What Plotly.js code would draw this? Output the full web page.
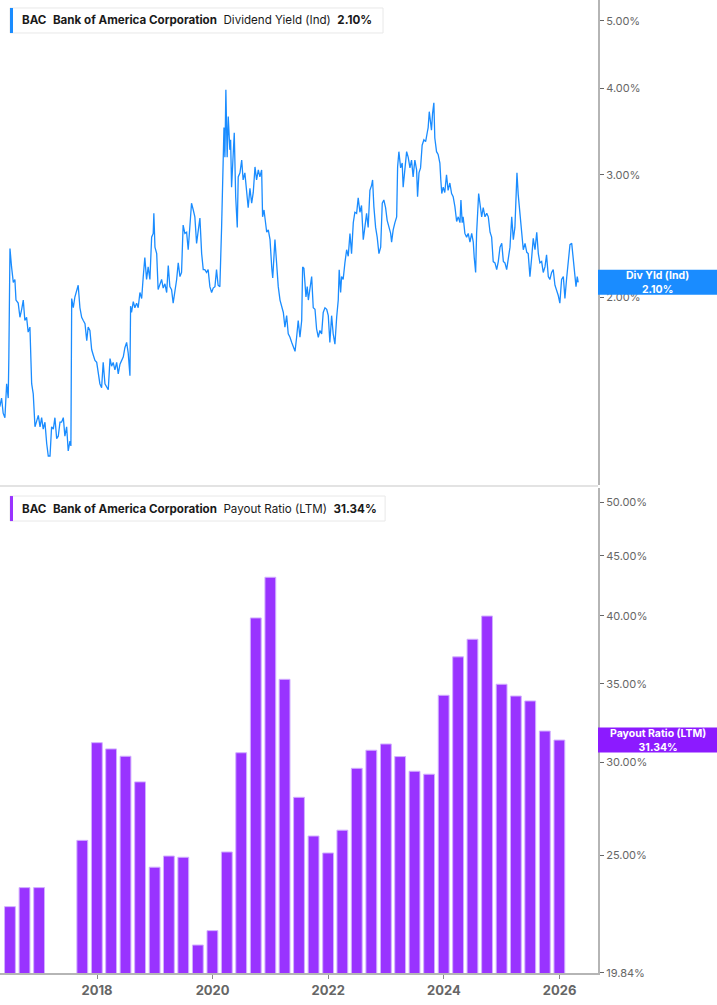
<!DOCTYPE html>
<html>
<head>
<meta charset="utf-8">
<script src="https://cdn.plot.ly/plotly-3.0.1.min.js"></script>
<style>
  html, body { margin: 0; padding: 0; background: #fff; }
  #chart { width: 717px; height: 1005px; }
</style>
</head>
<body>
<div id="chart"></div>
<script>
//dividend yield (ind), % - sample dates as decimal years
var yieldYears = [
  2016.322,2016.351,2016.379,2016.408,2016.438,2016.466,2016.478,2016.495,2016.524,2016.552,
  2016.581,2016.599,2016.639,2016.668,2016.697,2016.725,2016.754,2016.784,2016.811,2016.841,
  2016.870,2016.898,2016.927,2016.957,2016.984,2017.014,2017.043,2017.071,2017.100,2017.130,
  2017.157,2017.187,2017.216,2017.244,2017.273,2017.303,2017.330,2017.360,2017.389,2017.417,
  2017.446,2017.476,2017.503,2017.533,2017.550,2017.562,2017.590,2017.619,2017.649,2017.676,
  2017.706,2017.735,2017.763,2017.792,2017.822,2017.849,2017.879,2017.908,2017.936,2017.965,
  2017.995,2018.022,2018.052,2018.081,2018.109,2018.138,2018.168,2018.195,2018.225,2018.254,
  2018.282,2018.311,2018.341,2018.368,2018.398,2018.427,2018.455,2018.484,2018.514,2018.541,
  2018.571,2018.583,2018.600,2018.628,2018.657,2018.687,2018.714,2018.744,2018.773,2018.801,
  2018.830,2018.860,2018.887,2018.917,2018.946,2018.974,2018.986,2019.003,2019.033,2019.060,
  2019.090,2019.119,2019.147,2019.176,2019.206,2019.233,2019.263,2019.292,2019.320,2019.349,
  2019.379,2019.406,2019.436,2019.465,2019.493,2019.522,2019.552,2019.579,2019.609,2019.638,
  2019.666,2019.695,2019.725,2019.752,2019.781,2019.811,2019.839,2019.868,2019.897,2019.925,
  2019.954,2019.984,2020.011,2020.041,2020.070,2020.098,2020.127,2020.157,2020.174,2020.197,
  2020.214,2020.231,2020.254,2020.271,2020.300,2020.312,2020.330,2020.357,2020.375,2020.399,
  2020.427,2020.444,2020.473,2020.503,2020.530,2020.560,2020.589,2020.617,2020.646,2020.676,
  2020.703,2020.733,2020.762,2020.790,2020.819,2020.849,2020.866,2020.889,2020.906,2020.935,
  2020.963,2020.992,2021.022,2021.039,2021.079,2021.108,2021.136,2021.165,2021.195,2021.222,
  2021.252,2021.281,2021.309,2021.338,2021.368,2021.425,2021.454,2021.482,2021.511,2021.541,
  2021.558,2021.580,2021.615,2021.637,2021.655,2021.684,2021.714,2021.741,2021.771,2021.800,
  2021.828,2021.857,2021.886,2021.914,2021.944,2021.973,2022.001,2022.030,2022.059,2022.087,
  2022.116,2022.146,2022.174,2022.191,2022.215,2022.232,2022.260,2022.290,2022.319,2022.346,
  2022.376,2022.405,2022.433,2022.462,2022.492,2022.519,2022.549,2022.578,2022.606,2022.635,
  2022.665,2022.692,2022.722,2022.751,2022.768,2022.791,2022.821,2022.848,2022.878,2022.907,
  2022.935,2022.964,2022.994,2023.021,2023.051,2023.080,2023.097,2023.125,2023.154,2023.184,
  2023.201,2023.224,2023.253,2023.281,2023.298,2023.327,2023.357,2023.384,2023.414,2023.443,
  2023.471,2023.500,2023.530,2023.547,2023.570,2023.599,2023.627,2023.656,2023.685,2023.713,
  2023.730,2023.748,2023.772,2023.789,2023.806,2023.829,2023.846,2023.876,2023.903,2023.933,
  2023.950,2023.967,2023.990,2024.019,2024.049,2024.076,2024.106,2024.135,2024.163,2024.192,
  2024.222,2024.249,2024.279,2024.296,2024.318,2024.336,2024.365,2024.395,2024.422,2024.452,
  2024.481,2024.509,2024.526,2024.550,2024.567,2024.585,2024.602,2024.624,2024.654,2024.682,
  2024.711,2024.741,2024.768,2024.798,2024.827,2024.855,2024.884,2024.914,2024.941,2024.971,
  2025.000,2025.028,2025.057,2025.086,2025.114,2025.143,2025.173,2025.201,2025.230,2025.247,
  2025.265,2025.287,2025.316,2025.346,2025.374,2025.403,2025.433,2025.460,2025.490,2025.519,
  2025.547,2025.576,2025.606,2025.633,2025.662,2025.692,2025.720,2025.749,2025.778,2025.806,
  2025.835,2025.865,2025.893,2025.922,2025.951,2025.979,2026.008,2026.038,2026.066,2026.095,
  2026.124,2026.152,2026.181,2026.211,2026.238,2026.268,2026.285,2026.307,2026.325
];
var yieldValues = [
  1.39,1.43,1.36,1.34,1.50,1.43,1.64,2.35,2.21,2.10,
  2.12,1.98,1.96,1.87,1.92,1.98,1.85,1.87,1.78,1.81,
  1.50,1.45,1.30,1.33,1.35,1.30,1.34,1.29,1.32,1.23,
  1.18,1.18,1.30,1.29,1.34,1.25,1.26,1.32,1.32,1.34,
  1.26,1.30,1.20,1.24,1.22,1.99,1.93,2.00,2.05,2.08,
  1.93,1.87,1.85,1.83,1.73,1.81,1.79,1.68,1.65,1.62,
  1.61,1.55,1.50,1.48,1.61,1.50,1.48,1.47,1.63,1.59,
  1.61,1.57,1.61,1.55,1.60,1.62,1.64,1.69,1.72,1.66,
  1.54,1.94,1.90,1.97,1.93,1.96,1.93,2.03,1.99,2.14,
  2.28,2.12,2.21,2.12,2.44,2.47,2.64,2.36,2.31,2.05,
  2.08,2.12,2.06,2.09,2.03,2.22,2.07,2.05,1.96,2.03,
  2.12,2.24,2.14,2.17,2.54,2.47,2.48,2.34,2.57,2.73,
  2.67,2.61,2.39,2.47,2.60,2.31,2.19,2.19,2.17,2.19,
  2.07,2.03,2.06,2.07,2.19,2.08,2.07,2.52,3.02,3.51,
  3.18,3.98,3.18,3.64,3.26,3.37,2.88,3.26,3.45,2.79,
  2.52,2.98,3.02,3.15,2.95,3.02,2.85,2.69,2.87,2.73,
  2.83,3.08,2.95,3.05,2.98,3.05,2.61,2.67,2.60,2.48,
  2.50,2.42,2.20,2.13,2.42,2.19,2.07,1.98,1.93,1.90,
  1.81,1.88,1.77,1.75,1.72,1.67,1.75,1.85,1.75,1.85,
  2.21,2.20,2.00,2.07,1.98,2.07,2.14,1.93,1.92,1.80,
  1.75,1.79,1.77,1.90,1.93,1.92,1.88,1.72,1.88,1.77,
  1.71,1.87,1.98,2.19,2.03,2.14,2.12,2.24,2.34,2.29,
  2.47,2.31,2.56,2.65,2.64,2.78,2.65,2.71,2.42,2.52,
  2.64,2.52,2.85,2.90,2.95,2.70,2.52,2.44,2.31,2.36,
  2.73,2.76,2.69,2.58,2.52,2.47,2.40,2.50,2.56,2.61,
  3.08,3.24,3.07,3.12,2.88,3.08,3.24,3.18,3.07,3.15,
  2.98,3.15,3.05,2.79,3.02,3.07,3.31,3.37,3.35,3.45,
  3.51,3.70,3.56,3.48,3.68,3.81,3.39,3.24,3.21,3.12,
  2.95,2.82,2.88,2.83,3.00,2.85,2.92,2.82,2.79,2.70,
  2.57,2.61,2.56,2.76,2.56,2.61,2.47,2.44,2.47,2.40,
  2.47,2.40,2.28,2.17,2.47,2.67,2.82,2.73,2.61,2.69,
  2.61,2.64,2.61,2.48,2.44,2.25,2.24,2.19,2.25,2.36,
  2.39,2.25,2.24,2.19,2.26,2.36,2.61,2.42,2.52,2.79,
  3.02,2.81,2.64,2.52,2.34,2.39,2.32,2.31,2.14,2.28,
  2.43,2.34,2.48,2.31,2.24,2.25,2.17,2.21,2.30,2.14,
  2.12,2.17,2.19,2.08,2.05,2.01,1.96,2.12,2.14,1.99,
  2.13,2.24,2.38,2.39,2.28,2.12,2.07,2.14,2.10
];

//payout ratio (LTM), %, quarterly
var payoutDates = [
  "2016-06-30","2016-09-30","2016-12-31","2017-09-30","2017-12-31",
  "2018-03-31","2018-06-30","2018-09-30","2018-12-31",
  "2019-03-31","2019-06-30","2019-09-30","2019-12-31",
  "2020-03-31","2020-06-30","2020-09-30","2020-12-31",
  "2021-03-31","2021-06-30","2021-09-30","2021-12-31",
  "2022-03-31","2022-06-30","2022-09-30","2022-12-31",
  "2023-03-31","2023-06-30","2023-09-30","2023-12-31",
  "2024-03-31","2024-06-30","2024-09-30","2024-12-31",
  "2025-03-31","2025-06-30","2025-09-30","2025-12-31"
];
var payoutValues = [
  22.60,23.46,23.46,25.74,31.18,
  30.80,30.36,28.87,24.42,
  24.96,24.90,20.96,21.56,
  25.16,30.57,39.83,43.14,
  35.31,28.01,25.96,25.11,
  26.26,29.65,30.72,31.10,
  30.34,29.48,29.31,34.22,
  36.90,38.20,39.98,34.97,
  34.17,33.84,31.90,31.34
];

var yearTicks = ["2018", "2020", "2022", "2024", "2026"];
var yieldTicks = [2, 3, 4, 5];
var payoutTicks = [19.84, 25, 30, 35, 40, 45, 50];

var lastYield = 2.10;
var lastPayout = 31.34;

var blue = "#1a8cff";
var purple = "#9933ff";
var fontFamily = "Inter, Roboto, 'Noto Sans', sans-serif";

//decimal year -> yyyy-mm-dd
function yearToDate(y) {
  var yr = Math.floor(y);
  var start = Date.UTC(yr, 0, 1);
  var end = Date.UTC(yr + 1, 0, 1);
  return new Date(start + (y - yr) * (end - start)).toISOString().slice(0, 10);
}

var topDomain = [0.5015, 1];
var bottomDomain = [0, 0.4985];
var topRange = [0.030, 0.7292];
var bottomRange = [Math.log10(19.84), 1.711];

//value on a log axis -> paper y
function paperY(v, domain, range) {
  return domain[0] + (Math.log10(v) - range[0]) / (range[1] - range[0]) * (domain[1] - domain[0]);
}

var data = [
  {
    x: yieldYears.map(yearToDate),
    y: yieldValues,
    type: "scatter",
    mode: "lines",
    line: { color: blue, width: 1.3 },
    xaxis: "x",
    yaxis: "y",
  },
  {
    x: payoutDates,
    y: payoutValues,
    type: "bar",
    marker: { color: purple, line: { color: "#d2b0ff", width: 1 } },
    xaxis: "x",
    yaxis: "y2",
  },
];

var yAxisStyle = {
  type: "log",
  side: "right",
  showgrid: false,
  zeroline: false,
  showline: true,
  linecolor: "#b5b5b5",
  linewidth: 2,
  ticks: "outside",
  ticklen: 4,
  tickwidth: 1,
  tickcolor: "#666",
  tickfont: { family: fontFamily, size: 11, color: "#666" },
  fixedrange: true,
};

var layout = {
  width: 717,
  height: 1005,
  margin: { l: 0, r: 119, t: 0, b: 32 },
  paper_bgcolor: "#fff",
  plot_bgcolor: "#fff",
  showlegend: false,
  bargap: 0.24,
  xaxis: {
    type: "date",
    anchor: "y2",
    range: ["2016-04-28", "2026-09-01"],
    showgrid: false,
    zeroline: false,
    showline: true,
    linecolor: "#b5b5b5",
    linewidth: 2,
    ticks: "outside",
    ticklen: 4,
    tickcolor: "#888",
    tickvals: yearTicks.map(function (t) { return t + "-01-01"; }),
    ticktext: yearTicks,
    tickfont: { family: fontFamily, size: 13, color: "#666", weight: "bold" },
  },
  yaxis: Object.assign({}, yAxisStyle, {
    domain: topDomain,
    range: topRange,
    tickvals: yieldTicks,
    ticktext: yieldTicks.map(function (v) { return v.toFixed(2) + "%"; }),
  }),
  yaxis2: Object.assign({}, yAxisStyle, {
    domain: bottomDomain,
    range: bottomRange,
    tickvals: payoutTicks,
    ticktext: payoutTicks.map(function (v) { return v.toFixed(2) + "%"; }),
  }),
  shapes: [],
  annotations: [],
};

//panel separator
layout.shapes.push({
  type: "line", xref: "paper", yref: "paper",
  x0: 0, x1: 1, y0: 0.5005, y1: 0.5005,
  line: { color: "#e3e3e3", width: 2 },
});

//header boxes
function header(yTop, yBot, x1, accent, label, value) {
  layout.shapes.push({
    type: "rect", xref: "paper", yref: "paper",
    x0: 0.0167, x1: x1, y0: yBot, y1: yTop,
    fillcolor: "#fff", line: { color: "#e8e8e8", width: 1 },
  });
  layout.shapes.push({
    type: "rect", xref: "paper", yref: "paper",
    x0: 0.0167, x1: 0.0217, y0: yBot, y1: yTop,
    fillcolor: accent, line: { width: 0 },
  });
  layout.annotations.push({
    xref: "paper", yref: "paper",
    x: 0.0335, y: (yTop + yBot) / 2,
    xanchor: "left", yanchor: "middle", showarrow: false,
    text: "<b>BAC</b>&nbsp;&nbsp;<b>Bank of America Corporation</b>&nbsp;&nbsp;" +
      label + "&nbsp;&nbsp;<b>" + value + "</b>",
    font: { family: fontFamily, size: 11.6, color: "#1a1a1a" },
  });
}
header(0.9918, 0.9661, 0.6405, blue, "Dividend Yield (Ind)", lastYield.toFixed(2) + "%");
header(0.4902, 0.4645, 0.644, purple, "Payout Ratio (LTM)", lastPayout.toFixed(2) + "%");

//last value badges on the right axis
function badge(v, domain, range, color, label) {
  var yc = paperY(v, domain, range);
  var half = 12.5 / 973;
  layout.shapes.push({
    type: "rect", xref: "paper", yref: "paper",
    x0: 1.0, x1: 717 / 598, y0: yc - half, y1: yc + half,
    fillcolor: color, line: { width: 0 },
  });
  layout.annotations.push({
    xref: "paper", yref: "paper", x: 1.0995, y: yc,
    xanchor: "center", yanchor: "middle", showarrow: false,
    text: "<b>" + label + "</b><br><b>" + v.toFixed(2) + "%</b>",
    font: { family: fontFamily, size: 10.5, color: "#fff" },
  });
}
badge(lastYield, topDomain, topRange, blue, "Div Yld (Ind)");
badge(lastPayout, bottomDomain, bottomRange, "#8c1aff", "Payout Ratio (LTM)");

Plotly.newPlot("chart", data, layout, { staticPlot: true, displayModeBar: false });
</script>
</body>
</html>
